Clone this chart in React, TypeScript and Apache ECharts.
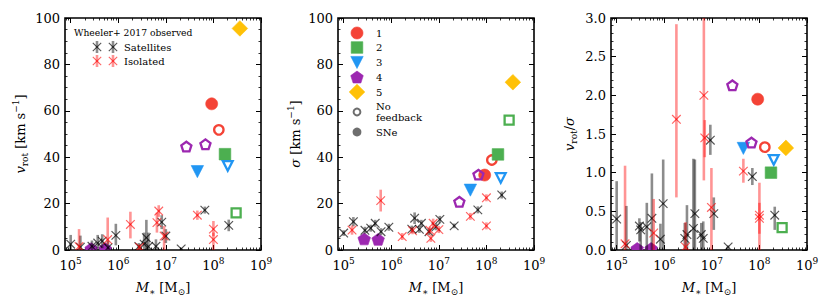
import React, { useEffect, useRef } from 'react';
import * as echarts from 'echarts';

const FONT = '"DejaVu Serif", serif';

// ---------- Simulations (index = simulation 1..5) ----------
const simNames = ['1', '2', '3', '4', '5'];
const simMassSNe = [[9.2e7], [1.75e8], [4.6e7], [2.7e5, 5.3e5], [3.6e8]];
const simMassNoFb = [[1.3e8], [3.0e8], [2.0e8], [2.7e7, 6.8e7], []];
const vrotSNe = [[63], [41.3], [34], [0.6, 0.6], [95.5]];
const vrotNoFb = [[51.8], [16], [36.4], [44.6, 45.6], []];
const sigmaSNe = [[32.3], [41.2], [26], [4.8, 4.6], [72.3]];
const sigmaNoFb = [[38.8], [56], [31.2], [20.8, 32.5], []];
const ratioSNe = [[1.95], [1.0], [1.32], [0.02, 0.02], [1.32]];
const ratioNoFb = [[1.33], [0.29], [1.17], [2.13, 1.39], []];

// ---------- Wheeler+ 2017 observed: [M*, value, minus, plus] ----------
const vrotSatellites = [
  [1.0e5, 2.5, 2.5, 4.0], [1.6e5, 1.2, 1.2, 5.0], [2.8e5, 1.6, 1.6, 2.5], [3.7e5, 3.0, 3.0, 3.5],
  [4.6e5, 3.8, 3.0, 3.0], [6.1e5, 1.0, 1.0, 3.0], [8.9e5, 6.3, 4.3, 5.0], [2.7e6, 1.5, 1.5, 1.5],
  [3.5e6, 2.5, 2.5, 5.0], [3.9e6, 5.3, 5.3, 7.7], [4.3e6, 1.5, 1.5, 6.0], [6.2e6, 1.6, 1.6, 3.0],
  [8.2e6, 12.0, 3.0, 3.0], [1.0e7, 6.0, 3.0, 3.0], [2.1e7, 0.5, 0.5, 0.5], [6.6e7, 17.2, 1.5, 1.5],
  [2.1e8, 10.6, 2.5, 2.5],
];
const vrotIsolated = [
  [1.5e5, 1.5, 1.5, 7.5], [6.0e5, 4.5, 2.0, 9.5], [1.8e6, 11.0, 6.0, 5.5], [2.8e6, 1.2, 1.2, 1.2],
  [6.5e6, 11.8, 4.3, 4.3], [7.1e6, 16.8, 2.5, 2.5], [9.2e6, 6.0, 6.0, 4.3], [4.6e7, 15.0, 2.0, 2.0],
  [1.0e8, 9.0, 3.0, 3.5], [1.0e8, 4.5, 4.5, 3.0],
];
const sigmaSatellites = [
  [1.0e5, 7.3, 1.2, 1.2], [1.6e5, 12.2, 2.0, 2.0], [2.8e5, 8.5, 1.5, 1.5], [3.7e5, 9.4, 1.5, 1.5],
  [4.6e5, 11.5, 1.5, 1.5], [6.1e5, 7.9, 1.5, 1.5], [8.9e5, 9.8, 1.5, 1.5], [2.7e6, 9.0, 1.5, 1.5],
  [3.1e6, 13.7, 2.5, 2.5], [3.9e6, 8.9, 1.5, 1.5], [4.3e6, 11.5, 1.5, 1.5], [6.2e6, 7.9, 1.5, 1.5],
  [8.7e6, 10.0, 1.5, 1.5], [1.05e7, 13.2, 1.5, 1.5], [2.1e7, 10.4, 1.0, 1.0], [6.6e7, 17.3, 1.5, 1.5],
  [2.1e8, 23.7, 1.5, 1.5],
];
const sigmaIsolated = [
  [1.5e5, 8.6, 2.0, 2.0], [6.0e5, 21.3, 4.7, 4.7], [1.7e6, 5.8, 1.5, 1.5], [2.8e6, 8.3, 1.5, 1.5],
  [6.5e6, 8.5, 1.5, 1.5], [6.8e6, 5.0, 1.5, 1.5], [7.6e6, 11.5, 2.0, 2.0], [1.0e7, 8.8, 1.5, 1.5],
  [4.6e7, 14.5, 1.5, 1.5], [1.0e8, 22.5, 1.5, 1.5], [1.0e8, 10.4, 1.5, 1.5],
];
const ratioSatellites = [
  [1.0e5, 0.40, 0.40, 0.49], [1.6e5, 0.06, 0.06, 0.51], [3.0e5, 0.31, 0.20, 0.10], [3.2e5, 0.26, 0.26, 0.10],
  [4.3e5, 0.30, 0.30, 0.31], [5.5e5, 0.41, 0.41, 0.58], [8.3e5, 0.14, 0.14, 0.20], [9.5e5, 0.60, 0.60, 0.57],
  [2.7e6, 0.15, 0.15, 0.20], [3.0e6, 0.20, 0.20, 0.38], [4.1e6, 0.28, 0.28, 0.90], [4.4e6, 0.47, 0.47, 0.70],
  [6.0e6, 0.20, 0.20, 0.15], [6.6e6, 0.15, 0.15, 0.22], [9.3e6, 1.42, 0.19, 0.20], [1.1e7, 0.47, 0.21, 0.21],
  [2.2e7, 0.04, 0.04, 0.02], [7.1e7, 0.95, 0.11, 0.11], [2.1e8, 0.45, 0.19, 0.11],
];
const ratioIsolated = [
  [1.5e5, 0.08, 0.08, 1.01], [6.0e5, 0.22, 0.22, 0.44], [1.8e6, 1.69, 1.01, 1.23], [2.8e6, 0.04, 0.04, 0.32],
  [6.8e6, 2.00, 1.10, 1.30], [7.1e6, 1.45, 0.25, 0.23], [9.8e6, 0.55, 0.55, 0.51], [4.6e7, 1.02, 0.15, 0.16],
  [1.0e8, 0.45, 0.45, 0.42], [1.0e8, 0.41, 0.20, 0.20],
];

// ---------- Axes ----------
const X_MIN = 7.6e4;
const X_MAX = 1e9;
const X_MAJOR = [1e5, 1e6, 1e7, 1e8, 1e9];
const X_MINOR: number[] = [];
for (let d = 4; d <= 8; d++) for (let k = 2; k <= 9; k++) {
  const v = k * Math.pow(10, d);
  if (v >= X_MIN && v <= X_MAX) X_MINOR.push(v);
}
const yTitles = [
  '{i|v}{sub|rot} [km s{sup|−1}]',
  '{i|σ} [km s{sup|−1}]',
  '{i|v}{sub|rot}/{i|σ}',
];
const yMax = [100, 100, 3];
const yInterval = [20, 20, 0.5];
const yMinorSplit = [4, 4, 5];

// ---------- Styles ----------
const SIM_COLORS = ['#f44336', '#4caf50', '#2196f3', '#9c27b0', '#ffc107'];
const SIM_SHAPES = ['circle', 'square', 'triangledown', 'pentagon', 'diamond'];
const SIM_RADIUS = [6, 5.8, 6.2, 6.6, 7.8];
const OPEN_SHRINK = 1.3;
const SAT_BAR = 'rgba(0,0,0,0.45)';
const SAT_MARK = 'rgba(0,0,0,0.68)';
const ISO_BAR = 'rgba(255,0,0,0.42)';
const ISO_MARK = 'rgba(255,0,0,0.62)';
const GRID_LEFT = [65, 338, 611];
const GRID_TOP = 18;
const GRID_W = 196;
const GRID_H = 232;
const Y_NAME_GAP = [36, 31, 33];

const richBase = {
  i: { fontFamily: FONT, fontStyle: 'italic', fontSize: 13, color: '#000' },
  sub: { fontFamily: FONT, fontSize: 9, verticalAlign: 'bottom', lineHeight: 10, color: '#000' },
  sup: { fontFamily: FONT, fontSize: 9, verticalAlign: 'top', lineHeight: 10, color: '#000' },
};

function pentaPts(cx: number, cy: number, r: number) {
  const p: number[][] = [];
  for (let i = 0; i < 5; i++) {
    const a = -Math.PI / 2 + (i * 2 * Math.PI) / 5;
    p.push([cx + r * Math.cos(a), cy + r * Math.sin(a)]);
  }
  return p;
}

function markerShape(kind: string, cx: number, cy: number, r: number, style: any) {
  switch (kind) {
    case 'circle':
      return { type: 'circle', shape: { cx, cy, r }, style };
    case 'square':
      return { type: 'rect', shape: { x: cx - r, y: cy - r, width: 2 * r, height: 2 * r }, style };
    case 'triangledown':
      return { type: 'polygon', shape: { points: [[cx - r, cy - r * 0.9], [cx + r, cy - r * 0.9], [cx, cy + r * 1.05]] }, style };
    case 'pentagon':
      return { type: 'polygon', shape: { points: pentaPts(cx, cy + r * 0.1, r) }, style };
    default:
      return { type: 'polygon', shape: { points: [[cx, cy - r], [cx + r, cy], [cx, cy + r], [cx - r, cy]] }, style };
  }
}

function buildOption() {
  const grid: any[] = [];
  const xAxis: any[] = [];
  const yAxis: any[] = [];
  const series: any[] = [];

  const simVals = [
    [vrotSNe, vrotNoFb],
    [sigmaSNe, sigmaNoFb],
    [ratioSNe, ratioNoFb],
  ];
  const obsVals = [
    [vrotSatellites, vrotIsolated],
    [sigmaSatellites, sigmaIsolated],
    [ratioSatellites, ratioIsolated],
  ];

  for (let g = 0; g < 3; g++) {
    grid.push({
      left: GRID_LEFT[g], top: GRID_TOP, width: GRID_W, height: GRID_H,
      show: true, borderColor: '#000', borderWidth: 1.6, backgroundColor: 'transparent',
    });
    const xb = {
      gridIndex: g, type: 'log', logBase: 10, min: X_MIN, max: X_MAX,
      axisLine: { show: false, onZero: false }, splitLine: { show: false },
    };
    const majorTick = { show: true, inside: true, length: 5, customValues: X_MAJOR, lineStyle: { color: '#000', width: 1 } };
    const minorTick = { show: true, inside: true, length: 2.5, customValues: X_MINOR, lineStyle: { color: '#000', width: 0.8 } };
    xAxis.push({
      ...xb, position: 'bottom',
      name: '{i|M}{sub|∗} [M{sub|⊙}]', nameLocation: 'middle', nameGap: 25,
      nameTextStyle: { fontFamily: FONT, fontSize: 13, color: '#000', lineHeight: 18, rich: richBase },
      axisTick: majorTick,
      axisLabel: {
        customValues: X_MAJOR, margin: 6, fontFamily: FONT, fontSize: 13, color: '#000', lineHeight: 18,
        formatter: (v: number) => '10{sup|' + Math.round(Math.log10(v)) + '}',
        rich: { sup: { fontFamily: FONT, fontSize: 9, verticalAlign: 'top', lineHeight: 10, color: '#000' } },
      },
    });
    xAxis.push({ ...xb, position: 'bottom', axisTick: minorTick, axisLabel: { show: false } });
    xAxis.push({ ...xb, position: 'top', axisTick: majorTick, axisLabel: { show: false } });
    xAxis.push({ ...xb, position: 'top', axisTick: minorTick, axisLabel: { show: false } });

    const yb = {
      gridIndex: g, type: 'value', min: 0, max: yMax[g], interval: yInterval[g],
      splitLine: { show: false }, axisLine: { show: false, onZero: false },
      axisTick: { show: true, inside: true, length: 5, lineStyle: { color: '#000', width: 1 } },
      minorTick: { show: true, splitNumber: yMinorSplit[g], length: 2.5, lineStyle: { color: '#000', width: 0.8 } },
    };
    yAxis.push({
      ...yb, position: 'left',
      name: yTitles[g], nameLocation: 'middle', nameGap: Y_NAME_GAP[g], nameRotate: 90,
      nameTextStyle: { fontFamily: FONT, fontSize: 13, color: '#000', lineHeight: 18, rich: richBase },
      axisLabel: {
        margin: 5, fontFamily: FONT, fontSize: 13, color: '#000',
        formatter: (v: number) => (g === 2 ? v.toFixed(1) : String(v)),
      },
    });
    yAxis.push({ ...yb, position: 'right', axisLabel: { show: false } });

    // simulations (clipped at the axes, like the reference)
    for (let s = 0; s < 5; s++) {
      for (let open = 0; open < 2; open++) {
        const masses = open ? simMassNoFb[s] : simMassSNe[s];
        const vals = simVals[g][open][s];
        if (!masses.length) continue;
        const color = SIM_COLORS[s];
        const kind = SIM_SHAPES[s];
        const r = open ? SIM_RADIUS[s] - OPEN_SHRINK : SIM_RADIUS[s];
        const style = open
          ? { fill: 'none', stroke: color, lineWidth: 2.3 }
          : { fill: color, stroke: color, lineWidth: 0.6 };
        series.push({
          type: 'custom', name: simNames[s] + (open ? ' No feedback' : ' SNe'),
          xAxisIndex: g * 4, yAxisIndex: g * 2, z: 2, clip: true, silent: true,
          data: masses.map((m, i) => [m, vals[i]]),
          renderItem: (_p: any, api: any) => {
            const c = api.coord([api.value(0), api.value(1)]);
            return markerShape(kind, c[0], c[1], r, style);
          },
        });
      }
    }

    // observations
    const obs = (data: number[][], bar: string, mark: string, name: string) => ({
      type: 'custom', name, xAxisIndex: g * 4, yAxisIndex: g * 2, z: 3, clip: true, silent: true,
      data,
      renderItem: (_p: any, api: any) => {
        const m = api.value(0), v = api.value(1), lo = api.value(2), hi = api.value(3);
        const c = api.coord([m, v]);
        const a = api.coord([m, v - lo]);
        const b = api.coord([m, v + hi]);
        const k = 4.3;
        return {
          type: 'group',
          children: [
            { type: 'line', shape: { x1: a[0], y1: a[1], x2: b[0], y2: b[1] }, style: { stroke: bar, lineWidth: 2.6 } },
            { type: 'line', shape: { x1: c[0] - k, y1: c[1] - k, x2: c[0] + k, y2: c[1] + k }, style: { stroke: mark, lineWidth: 1.15 } },
            { type: 'line', shape: { x1: c[0] - k, y1: c[1] + k, x2: c[0] + k, y2: c[1] - k }, style: { stroke: mark, lineWidth: 1.15 } },
          ],
        };
      },
    });
    series.push(obs(obsVals[g][0], SAT_BAR, SAT_MARK, 'Satellites'));
    series.push(obs(obsVals[g][1], ISO_BAR, ISO_MARK, 'Isolated'));
  }

  // ---------- legends ----------
  const txt = (x: number, y: number, text: string, extra: any = {}) => ({
    type: 'text', x, y, silent: true,
    style: { text, fontFamily: FONT, fontSize: 10, fill: '#000', verticalAlign: 'middle', align: 'left', ...extra },
  });
  const aster = (cx: number, cy: number, bar: string, mark: string) => ({
    type: 'group', silent: true,
    children: [
      { type: 'line', shape: { x1: cx, y1: cy - 6, x2: cx, y2: cy + 6 }, style: { stroke: bar, lineWidth: 2.6 } },
      { type: 'line', shape: { x1: cx - 4.2, y1: cy - 4.2, x2: cx + 4.2, y2: cy + 4.2 }, style: { stroke: mark, lineWidth: 1.1 } },
      { type: 'line', shape: { x1: cx - 4.2, y1: cy + 4.2, x2: cx + 4.2, y2: cy - 4.2 }, style: { stroke: mark, lineWidth: 1.1 } },
    ],
  });
  const LX = 357;
  const rows = [33, 47.5, 62, 77, 92];
  const legendMarks = SIM_SHAPES.map((kind, i) => ({
    ...markerShape(kind, LX, rows[i], SIM_RADIUS[i], { fill: SIM_COLORS[i], stroke: SIM_COLORS[i], lineWidth: 0.6 }),
    silent: true,
  }));
  const graphic: any[] = [
    txt(74, 32, 'Wheeler+ 2017 observed', { fontSize: 9.2 }),
    aster(97, 47, SAT_BAR, SAT_MARK), aster(113, 47, SAT_BAR, SAT_MARK), txt(124, 47, 'Satellites'),
    aster(97, 61, ISO_BAR, ISO_MARK), aster(113, 61, ISO_BAR, ISO_MARK), txt(124, 61, 'Isolated'),
    ...legendMarks,
    { type: 'circle', silent: true, shape: { cx: LX, cy: 112, r: 3.4 }, style: { fill: 'none', stroke: '#6e6e6e', lineWidth: 2 } },
    { type: 'circle', silent: true, shape: { cx: LX, cy: 132, r: 4.4 }, style: { fill: '#6e6e6e' } },
    ...simNames.map((n, i) => txt(376, rows[i], n)),
    txt(376, 112, 'No\nfeedback', { lineHeight: 11 }),
    txt(376, 132, 'SNe'),
  ];

  return {
    animation: false,
    backgroundColor: '#fff',
    textStyle: { fontFamily: FONT },
    grid, xAxis, yAxis, series, graphic,
  };
}

export default function App() {
  const ref = useRef<HTMLDivElement>(null);
  useEffect(() => {
    if (!ref.current) return;
    const chart = echarts.init(ref.current, null, { renderer: 'svg' });
    chart.setOption(buildOption() as any);
    return () => chart.dispose();
  }, []);
  return (
    <div
      ref={ref}
      style={{ position: 'absolute', left: 0, top: 0, width: 830, height: 305, background: '#fff' }}
    />
  );
}
